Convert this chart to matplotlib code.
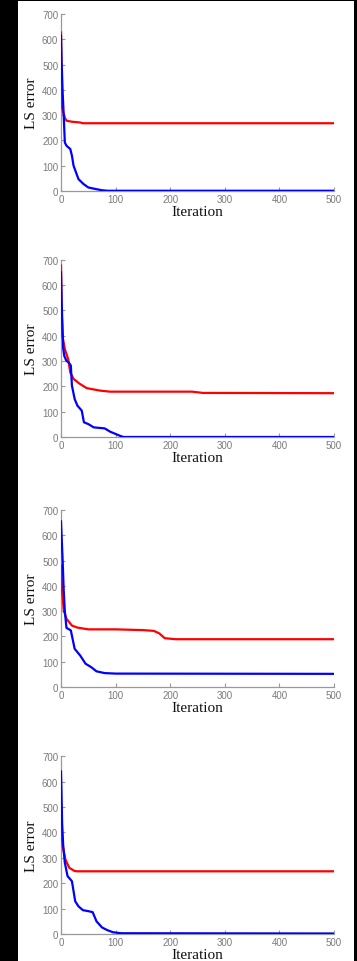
import matplotlib
matplotlib.use("Agg")
import matplotlib.pyplot as plt
from matplotlib.patches import Rectangle

# Panel data: (iteration, LS error) breakpoints
p1_red_x = [0, 1, 2, 4, 7, 10, 20, 35, 40, 500]
p1_red_y = [627, 450, 330, 311, 290, 278, 274, 271, 268, 268]
p1_blue_x = [0, 1, 3, 5, 7, 10, 17, 20, 23, 32, 41, 50, 63, 75, 85, 500]
p1_blue_y = [614, 522, 390, 298, 192, 179, 166, 140, 100, 47, 28, 14, 8, 3, 1, 1]

p2_red_x = [0, 1, 2.5, 7, 13, 17, 23, 35, 47, 72, 90, 240, 260, 500]
p2_red_y = [677, 520, 400, 347, 308, 255, 229, 209, 193, 183, 179, 179, 174, 173]
p2_blue_x = [0, 1, 2, 3, 4, 6, 10, 14, 18, 20, 25, 30, 38, 42, 50, 60, 80, 90, 100, 110, 115, 500]
p2_blue_y = [650, 560, 480, 420, 350, 320, 300, 295, 282, 203, 150, 124, 104, 58, 51, 38, 34, 21, 12, 3, 0, 0]

p3_red_x = [0, 2, 5, 10, 20, 30, 50, 100, 150, 170, 180, 190, 210, 500]
p3_red_y = [480, 380, 303, 270, 243, 235, 228, 228, 225, 222, 212, 193, 189, 189]
p3_blue_x = [0, 3, 5, 7, 10, 18, 25, 35, 45, 55, 65, 80, 100, 500]
p3_blue_y = [655, 500, 380, 300, 234, 224, 151, 125, 92, 79, 62, 55, 53, 52]

p4_red_x = [0, 3, 8, 15, 25, 30, 500]
p4_red_y = [439, 347, 294, 261, 248, 247, 247]
p4_blue_x = [0, 1, 2, 4, 7, 12, 20, 26, 32, 40, 50, 58, 65, 75, 85, 95, 110, 500]
p4_blue_y = [640, 550, 440, 350, 281, 228, 208, 129, 109, 94, 90, 86, 50, 26, 15, 7, 3, 2]

panels = [
    (p1_red_x, p1_red_y, p1_blue_x, p1_blue_y),
    (p2_red_x, p2_red_y, p2_blue_x, p2_blue_y),
    (p3_red_x, p3_red_y, p3_blue_x, p3_blue_y),
    (p4_red_x, p4_red_y, p4_blue_x, p4_blue_y),
]
x_ticks = [0, 100, 200, 300, 400, 500]
y_ticks = [0, 100, 200, 300, 400, 500, 600, 700]

W, H = 357, 962
fig = plt.figure(figsize=(W / 100, H / 100), dpi=100, facecolor="black")
fig.patches.append(Rectangle((18 / W, 0), (354 - 18) / W, 960 / H,
                             transform=fig.transFigure, facecolor="white",
                             edgecolor="none", zorder=-10))

# axes top/bottom pixel rows (from top of image)
tops = [15, 260.7, 511, 757.3]
bottoms = [192, 438, 688, 935]
left_px, right_px = 61, 334

for (rx, ry, bx, by), t, b in zip(panels, tops, bottoms):
    ax = fig.add_axes([left_px / W, 1 - b / H, (right_px - left_px) / W, (b - t) / H])
    ax.set_zorder(1)
    ax.set_facecolor("white")
    ax.plot(rx, ry, color="#ff0000", lw=1.6, zorder=3)
    ax.plot(bx, by, color="#0000ff", lw=1.6, zorder=4)
    ax.set_xlim(0, 500)
    ax.set_ylim(0, 700)
    ax.set_xticks(x_ticks)
    ax.set_yticks(y_ticks)
    for s in ["top", "right"]:
        ax.spines[s].set_visible(False)
    for s in ["left", "bottom"]:
        ax.spines[s].set_color("#999999")
        ax.spines[s].set_linewidth(0.9)
    ax.tick_params(direction="in", length=3, width=0.8, color="#999999",
                   labelcolor="#7a7a7a", labelsize=7, pad=2)
    for lab in ax.get_xticklabels() + ax.get_yticklabels():
        lab.set_family("Liberation Sans")
    ax.set_xlabel("Iteration", family="Liberation Serif", fontsize=11,
                  color="#111111", labelpad=1)
    ax.set_ylabel("LS error", family="Liberation Serif", fontsize=11,
                  color="#111111", labelpad=3)

fig.savefig("out.png", dpi=100, facecolor="black")
